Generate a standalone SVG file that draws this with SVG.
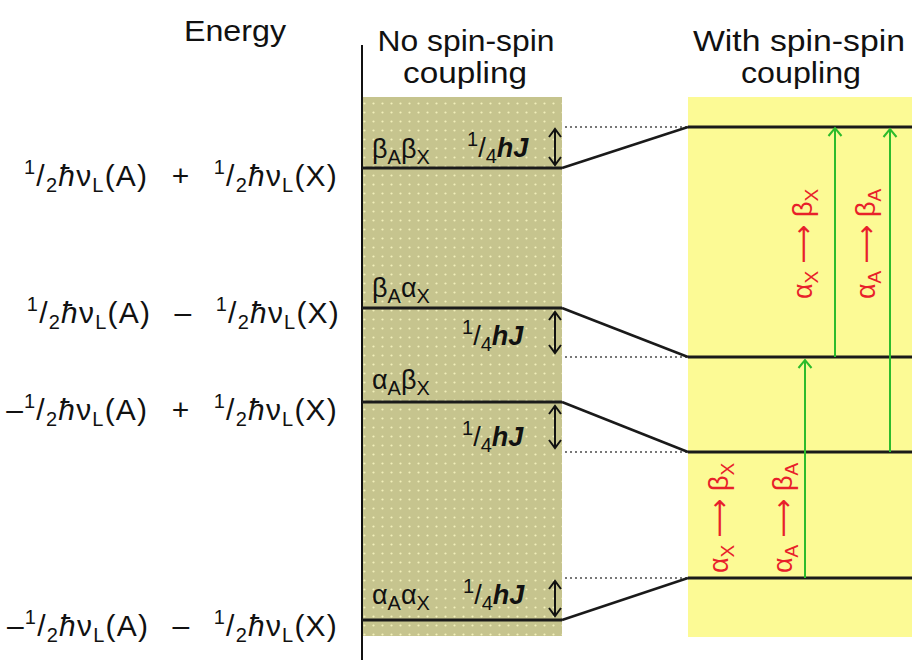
<svg xmlns="http://www.w3.org/2000/svg" width="912" height="660" viewBox="0 0 912 660">
<defs>
<pattern id="dots" width="9" height="9" patternUnits="userSpaceOnUse">
<rect width="9" height="9" fill="#c6c48e"/>
<circle cx="4.5" cy="4.5" r="1.1" fill="#f2f0ba"/>
</pattern>
<marker id="chev" viewBox="-10 -8 12 16" refX="0" refY="0" markerWidth="12" markerHeight="16" markerUnits="userSpaceOnUse" orient="auto-start-reverse">
<path d="M-8,-6 L0,0 L-8,6" fill="none" stroke="#111" stroke-width="2"/>
</marker>
<marker id="gchev" viewBox="-10 -8 12 16" refX="0" refY="0" markerWidth="12" markerHeight="16" markerUnits="userSpaceOnUse" orient="auto">
<path d="M-8,-6.5 L0,0 L-8,6.5" fill="none" stroke="#2cbb2c" stroke-width="2"/>
</marker>
</defs>
<style>
text{font-family:"Liberation Sans",Arial,"DejaVu Sans",sans-serif;fill:#111}
.h{font-size:29px;text-anchor:middle}
.f{font-size:30px;letter-spacing:1.2px}
.s{font-size:20px}
.i{font-style:italic}
.hj{font-style:italic;font-weight:bold}
.lab{font-size:27px}
.red{font-size:27px;fill:#e8202a}
.rs{font-size:19px;fill:#e8202a}
.lvl{stroke:#1a1a1a;stroke-width:3;fill:none}
.con{stroke:#1a1a1a;stroke-width:2.5;fill:none}
.dot{stroke:#777;stroke-width:2;stroke-dasharray:2 3;fill:none}
.dbl{stroke:#111;stroke-width:2;fill:none;marker-start:url(#chev);marker-end:url(#chev)}
.gr{stroke:#2cbb2c;stroke-width:2;fill:none;marker-end:url(#gchev)}
</style>
<rect width="912" height="660" fill="#ffffff"/>

<g id="headers">
<text class="h" x="235" y="41" textLength="102" lengthAdjust="spacingAndGlyphs">Energy</text>
<text class="h" x="466" y="51" textLength="177" lengthAdjust="spacingAndGlyphs">No spin-spin</text>
<text class="h" x="465" y="83" textLength="124" lengthAdjust="spacingAndGlyphs">coupling</text>
<text class="h" x="799" y="51" textLength="212" lengthAdjust="spacingAndGlyphs">With spin-spin</text>
<text class="h" x="801" y="83" textLength="120" lengthAdjust="spacingAndGlyphs">coupling</text>
</g>

<g id="panels">
<rect x="362" y="97" width="200" height="539" fill="url(#dots)"/>
<rect x="688" y="97" width="224" height="540" fill="#fcfa95"/>
<line x1="362" y1="45" x2="362" y2="660" stroke="#111" stroke-width="2"/>
</g>

<g id="energy-formulas">
<text class="f" x="338" y="186" text-anchor="end"><tspan class="s" dy="-12">1</tspan><tspan dy="12">/</tspan><tspan class="s" dy="6">2</tspan><tspan class="i" dy="-6">ħ</tspan><tspan>ν</tspan><tspan class="s" dy="6">L</tspan><tspan dy="-6">(A)&#8194;&#8201;+&#8194;&#8201;</tspan><tspan class="s" dy="-12">1</tspan><tspan dy="12">/</tspan><tspan class="s" dy="6">2</tspan><tspan class="i" dy="-6">ħ</tspan><tspan>ν</tspan><tspan class="s" dy="6">L</tspan><tspan dy="-6">(X)</tspan></text>
<text class="f" x="340" y="323" text-anchor="end"><tspan class="s" dy="-12">1</tspan><tspan dy="12">/</tspan><tspan class="s" dy="6">2</tspan><tspan class="i" dy="-6">ħ</tspan><tspan>ν</tspan><tspan class="s" dy="6">L</tspan><tspan dy="-6">(A)&#8194;&#8201;–&#8194;&#8201;</tspan><tspan class="s" dy="-12">1</tspan><tspan dy="12">/</tspan><tspan class="s" dy="6">2</tspan><tspan class="i" dy="-6">ħ</tspan><tspan>ν</tspan><tspan class="s" dy="6">L</tspan><tspan dy="-6">(X)</tspan></text>
<text class="f" x="338" y="420" text-anchor="end"><tspan>–</tspan><tspan class="s" dy="-12">1</tspan><tspan dy="12">/</tspan><tspan class="s" dy="6">2</tspan><tspan class="i" dy="-6">ħ</tspan><tspan>ν</tspan><tspan class="s" dy="6">L</tspan><tspan dy="-6">(A)&#8194;&#8201;+&#8194;&#8201;</tspan><tspan class="s" dy="-12">1</tspan><tspan dy="12">/</tspan><tspan class="s" dy="6">2</tspan><tspan class="i" dy="-6">ħ</tspan><tspan>ν</tspan><tspan class="s" dy="6">L</tspan><tspan dy="-6">(X)</tspan></text>
<text class="f" x="338" y="636" text-anchor="end"><tspan>–</tspan><tspan class="s" dy="-12">1</tspan><tspan dy="12">/</tspan><tspan class="s" dy="6">2</tspan><tspan class="i" dy="-6">ħ</tspan><tspan>ν</tspan><tspan class="s" dy="6">L</tspan><tspan dy="-6">(A)&#8194;&#8201;–&#8194;&#8201;</tspan><tspan class="s" dy="-12">1</tspan><tspan dy="12">/</tspan><tspan class="s" dy="6">2</tspan><tspan class="i" dy="-6">ħ</tspan><tspan>ν</tspan><tspan class="s" dy="6">L</tspan><tspan dy="-6">(X)</tspan></text>
</g>

<g id="level-bb">
<line class="lvl" x1="362" y1="168" x2="562" y2="168"/>
<text class="lab" x="372" y="158">β<tspan class="s" dy="6">A</tspan><tspan dy="-6">β</tspan><tspan class="s" dy="6">X</tspan></text>
<text class="lab" x="467" y="157"><tspan class="s" dy="-11">1</tspan><tspan dy="11">/</tspan><tspan class="s" dy="6">4</tspan><tspan class="hj" dy="-6">hJ</tspan></text>
<line class="dbl" x1="555" y1="129" x2="555" y2="165"/>
</g>
<g id="level-ba">
<line class="lvl" x1="362" y1="308" x2="562" y2="308"/>
<text class="lab" x="372" y="297">β<tspan class="s" dy="6">A</tspan><tspan dy="-6">α</tspan><tspan class="s" dy="6">X</tspan></text>
<text class="lab" x="462" y="345"><tspan class="s" dy="-11">1</tspan><tspan dy="11">/</tspan><tspan class="s" dy="6">4</tspan><tspan class="hj" dy="-6">hJ</tspan></text>
<line class="dbl" x1="555" y1="312" x2="555" y2="353"/>
</g>
<g id="level-ab">
<line class="lvl" x1="362" y1="402" x2="562" y2="402"/>
<text class="lab" x="372" y="389">α<tspan class="s" dy="6">A</tspan><tspan dy="-6">β</tspan><tspan class="s" dy="6">X</tspan></text>
<text class="lab" x="462" y="446"><tspan class="s" dy="-11">1</tspan><tspan dy="11">/</tspan><tspan class="s" dy="6">4</tspan><tspan class="hj" dy="-6">hJ</tspan></text>
<line class="dbl" x1="555" y1="406" x2="555" y2="448"/>
</g>
<g id="level-aa">
<line class="lvl" x1="362" y1="620" x2="562" y2="620"/>
<text class="lab" x="372" y="604">α<tspan class="s" dy="6">A</tspan><tspan dy="-6">α</tspan><tspan class="s" dy="6">X</tspan></text>
<text class="lab" x="463" y="604"><tspan class="s" dy="-11">1</tspan><tspan dy="11">/</tspan><tspan class="s" dy="6">4</tspan><tspan class="hj" dy="-6">hJ</tspan></text>
<line class="dbl" x1="555" y1="581" x2="555" y2="616"/>
</g>

<g id="coupled-levels">
<line class="lvl" x1="688" y1="127" x2="912" y2="127"/>
<line class="lvl" x1="688" y1="357" x2="912" y2="357"/>
<line class="lvl" x1="688" y1="452" x2="912" y2="452"/>
<line class="lvl" x1="688" y1="578" x2="912" y2="578"/>
</g>

<g id="connectors">
<line class="dot" x1="565" y1="127" x2="688" y2="127"/>
<line class="dot" x1="565" y1="357" x2="688" y2="357"/>
<line class="dot" x1="565" y1="452" x2="688" y2="452"/>
<line class="dot" x1="565" y1="578" x2="688" y2="578"/>
<line class="con" x1="562" y1="168" x2="688" y2="127"/>
<line class="con" x1="562" y1="308" x2="688" y2="357"/>
<line class="con" x1="562" y1="402" x2="688" y2="452"/>
<line class="con" x1="562" y1="620" x2="688" y2="578"/>
</g>

<g id="transitions">
<line class="gr" x1="835" y1="357" x2="835" y2="128"/>
<line class="gr" x1="890" y1="452" x2="890" y2="129"/>
<line class="gr" x1="805" y1="578" x2="805" y2="360"/>
<text class="red" transform="translate(812,244) rotate(-90)" text-anchor="middle">α<tspan class="rs" dy="6">X</tspan><tspan dy="-6"> ⟶ β</tspan><tspan class="rs" dy="6">X</tspan></text>
<text class="red" transform="translate(875,244) rotate(-90)" text-anchor="middle">α<tspan class="rs" dy="6">A</tspan><tspan dy="-6"> ⟶ β</tspan><tspan class="rs" dy="6">A</tspan></text>
<text class="red" transform="translate(728,518) rotate(-90)" text-anchor="middle">α<tspan class="rs" dy="6">X</tspan><tspan dy="-6"> ⟶ β</tspan><tspan class="rs" dy="6">X</tspan></text>
<text class="red" transform="translate(792,518) rotate(-90)" text-anchor="middle">α<tspan class="rs" dy="6">A</tspan><tspan dy="-6"> ⟶ β</tspan><tspan class="rs" dy="6">A</tspan></text>
</g>
</svg>
